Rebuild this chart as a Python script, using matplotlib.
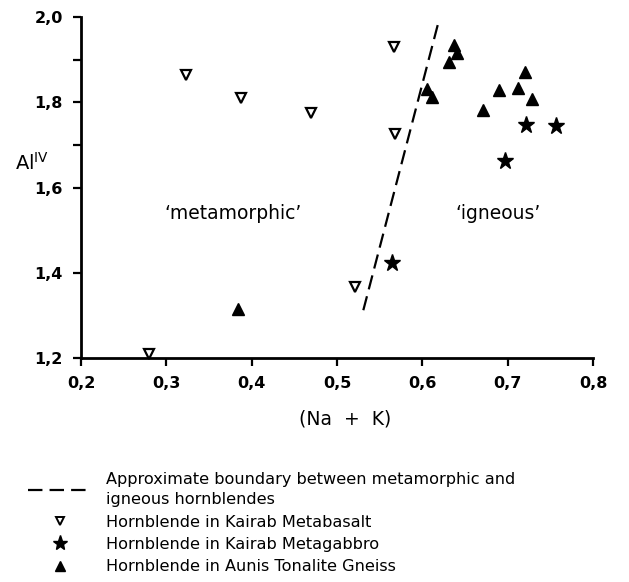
import matplotlib
matplotlib.use("Agg")
import matplotlib.pyplot as plt
from matplotlib.lines import Line2D

# Data
metabasalt_x = [0.323, 0.388, 0.470, 0.567, 0.568, 0.521, 0.280]
metabasalt_y = [1.864, 1.810, 1.775, 1.930, 1.725, 1.366, 1.210]

metagabbro_x = [0.564, 0.697, 0.721, 0.757]
metagabbro_y = [1.423, 1.662, 1.746, 1.744]

tonalite_x = [0.384, 0.637, 0.641, 0.631, 0.606, 0.611, 0.671, 0.690, 0.712, 0.720, 0.729]
tonalite_y = [1.315, 1.934, 1.915, 1.894, 1.831, 1.812, 1.782, 1.829, 1.833, 1.871, 1.808]

boundary_x = [0.618, 0.529]
boundary_y = [1.981, 1.298]

x_ticks = [0.2, 0.3, 0.4, 0.5, 0.6, 0.7, 0.8]
x_tick_labels = ["0,2", "0,3", "0,4", "0,5", "0,6", "0,7", "0,8"]
y_ticks = [1.2, 1.4, 1.6, 1.8, 2.0]
y_tick_labels = ["1,2", "1,4", "1,6", "1,8", "2,0"]
y_minor_ticks = [1.7, 1.9]

legend_labels = [
    "Approximate boundary between metamorphic and\nigneous hornblendes",
    "Hornblende in Kairab Metabasalt",
    "Hornblende in Kairab Metagabbro",
    "Hornblende in Aunis Tonalite Gneiss",
]

plt.rcParams['font.family'] = ['DejaVu Sans']

fig = plt.figure(figsize=(6.29, 5.82), dpi=100)
W, H = 629, 582
ax = fig.add_axes([81 / W, 1 - 358 / H, (593 - 81) / W, (358 - 17) / H])

ax.plot(boundary_x, boundary_y, color='black', lw=1.6, dashes=(6.5, 3.2))
ax.plot(metabasalt_x, metabasalt_y, linestyle='none', marker='v', ms=7.5,
        mfc='white', mec='black', mew=1.6, clip_on=False)
ax.plot(metagabbro_x, metagabbro_y, linestyle='none', marker='*', ms=12.5,
        color='black', clip_on=False)
ax.plot(tonalite_x, tonalite_y, linestyle='none', marker='^', ms=8,
        color='black', clip_on=False)

ax.set_xlim(0.2, 0.8)
ax.set_ylim(1.2, 2.0)
ax.set_xticks(x_ticks)
ax.set_xticklabels(x_tick_labels, fontsize=11.5, fontweight='bold')
ax.set_yticks(y_ticks)
ax.set_yticklabels(y_tick_labels, fontsize=11.5, fontweight='bold')
ax.set_yticks(y_minor_ticks, minor=True)
ax.tick_params(axis='both', which='both', direction='out', length=6, width=1.6)
ax.tick_params(axis='x', pad=7)
ax.tick_params(axis='y', pad=7)

for s in ['top', 'right']:
    ax.spines[s].set_visible(False)
for s in ['left', 'bottom']:
    ax.spines[s].set_linewidth(2)

ax.set_xlabel("(Na  +  K)", fontsize=13.5)
ax.xaxis.set_label_coords(0.516, -0.152)
fig.text(15 / W, 1 - 163 / H, r"Al$^{\mathrm{IV}}$", fontsize=14, ha='left', va='center')

ax.text(0.378, 1.54, "\u2018metamorphic\u2019", fontsize=13.5, ha='center', va='center')
ax.text(0.689, 1.54, "\u2018igneous\u2019", fontsize=13.5, ha='center', va='center')

handles = [
    Line2D([], [], color='black', lw=1.6, dashes=(6.5, 3.2)),
    Line2D([], [], linestyle='none', marker='v', ms=6, mfc='white', mec='black', mew=1.4),
    Line2D([], [], linestyle='none', marker='*', ms=11, color='black'),
    Line2D([], [], linestyle='none', marker='^', ms=6.5, color='black'),
]
leg = fig.legend(handles, legend_labels, loc='upper left',
                 bbox_to_anchor=(28 / W, 1 - 472 / H), frameon=False,
                 fontsize=11.6, handlelength=4.0, handletextpad=0.85,
                 labelspacing=0.45, borderpad=0, borderaxespad=0)
leg.get_texts()[0].set_linespacing(1.45)

fig.savefig("out.png", dpi=100)
